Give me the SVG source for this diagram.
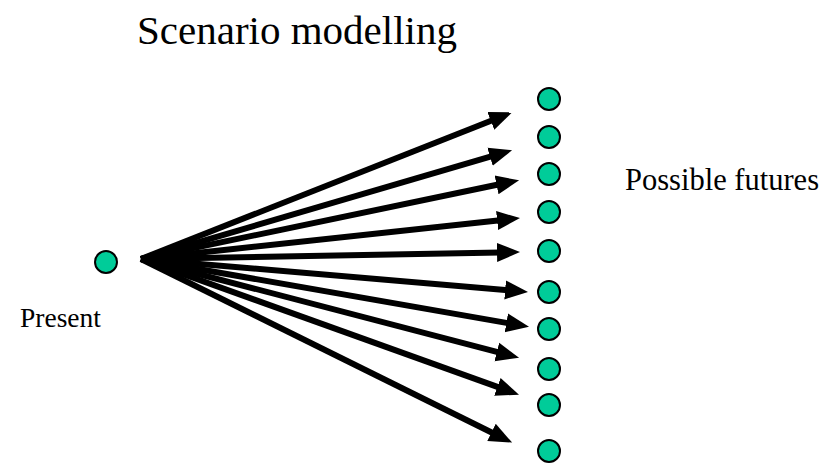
<svg xmlns="http://www.w3.org/2000/svg" width="823" height="465" viewBox="0 0 823 465">
<style>
.node{fill:#00CC99;stroke:#000;stroke-width:2}
.arr{stroke:#000;stroke-width:6;fill:none;marker-end:url(#ah)}
</style>
<defs>
<marker id="ah" markerUnits="userSpaceOnUse" markerWidth="26" markerHeight="22" viewBox="0 -11 26 22" refX="3" refY="0" orient="auto">
<path d="M0,-9.5 L23,0 L0,9.5 z" fill="#000"/>
</marker>
</defs>
<rect width="823" height="465" fill="#fff"/>
<g font-family="Liberation Serif, Tinos, DejaVu Serif, serif" fill="#000">
<text x="137" y="44" font-size="41">Scenario modelling</text>
<text x="625" y="190" font-size="30.5">Possible futures</text>
<text x="20" y="327" font-size="27.5">Present</text>
</g>
<g id="connectors">
<line class="arr" x1="141" y1="259" x2="493.6" y2="119.7"/>
<line class="arr" x1="141" y1="259" x2="492.9" y2="155.9"/>
<line class="arr" x1="141" y1="259" x2="499.5" y2="184.3"/>
<line class="arr" x1="141" y1="259" x2="500.1" y2="220.2"/>
<line class="arr" x1="141" y1="259" x2="500" y2="252.4"/>
<line class="arr" x1="141" y1="259" x2="508.1" y2="290.2"/>
<line class="arr" x1="141" y1="259" x2="509.3" y2="323.4"/>
<line class="arr" x1="141" y1="259" x2="499.7" y2="352.7"/>
<line class="arr" x1="141" y1="259" x2="500.2" y2="387.9"/>
<line class="arr" x1="141" y1="259" x2="494.2" y2="433.7"/>
</g>
<g id="present"><circle class="node" cx="106" cy="262" r="11"/></g>
<g id="f1"><circle class="node" cx="549" cy="99" r="11"/></g>
<g id="f2"><circle class="node" cx="549" cy="137" r="11"/></g>
<g id="f3"><circle class="node" cx="549" cy="174" r="11"/></g>
<g id="f4"><circle class="node" cx="549" cy="212" r="11"/></g>
<g id="f5"><circle class="node" cx="549" cy="251" r="11"/></g>
<g id="f6"><circle class="node" cx="549" cy="292" r="11"/></g>
<g id="f7"><circle class="node" cx="549" cy="329" r="11"/></g>
<g id="f8"><circle class="node" cx="549" cy="369" r="11"/></g>
<g id="f9"><circle class="node" cx="549" cy="405" r="11"/></g>
<g id="f10"><circle class="node" cx="549" cy="451" r="11"/></g>
</svg>
